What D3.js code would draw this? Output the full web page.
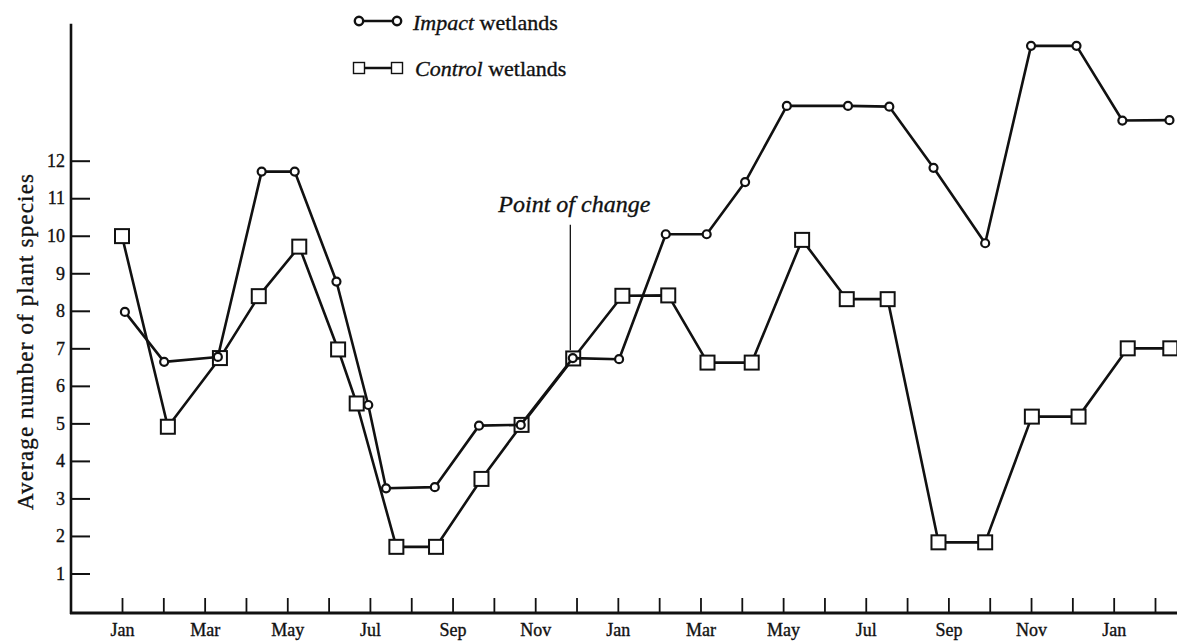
<!DOCTYPE html>
<html>
<head>
<meta charset="utf-8">
<script src="https://cdn.jsdelivr.net/npm/d3@7"></script>
<style>
  body { margin: 0; background: #fff; }
  text { font-family: "Liberation Serif", "DejaVu Serif", serif; fill: #111; stroke: #111; stroke-width: 0.35px; }
</style>
</head>
<body>
<svg></svg>
<script>
// sampling dates are irregular, so x is "months since the first Jan tick"
const impactMonths = [0.07, 1.02, 2.32, 3.38, 4.18, 5.19, 5.96, 6.39, 7.57, 8.64, 9.65, 10.91, 12.03,
    13.16, 14.15, 15.08, 16.09, 17.57, 18.57, 19.64, 20.89, 22.0, 23.1, 24.21, 25.35];
const impactValues = [7.97, 6.64, 6.77, 11.71, 11.71, 8.78, 5.49, 3.27, 3.3, 4.94, 4.96, 6.74, 6.71,
    10.04, 10.04, 11.43, 13.46, 13.46, 13.44, 11.81, 9.8, 15.06, 15.06, 13.07, 13.08];

const controlMonths = [0, 1.11, 2.37, 3.31, 4.29, 5.23, 5.68, 6.64, 7.6, 8.7, 9.67, 10.92, 12.11,
    13.22, 14.17, 15.24, 16.46, 17.54, 18.53, 19.76, 20.89, 22.02, 23.15, 24.34, 25.37];
const controlValues = [9.99, 4.91, 6.74, 8.39, 9.71, 6.97, 5.53, 1.71, 1.71, 3.52, 4.96, 6.73, 8.4,
    8.41, 6.62, 6.62, 9.89, 8.31, 8.31, 1.83, 1.83, 5.18, 5.18, 7.0, 7.0];

const monthLabels = ["Jan", "Mar", "May", "Jul", "Sep", "Nov", "Jan", "Mar", "May", "Jul", "Sep", "Nov", "Jan"];
const yTicks = [1, 2, 3, 4, 5, 6, 7, 8, 9, 10, 11, 12];
const changeMonth = 10.85;

function main() {
    const width = 1177;
    const height = 641;

    const svg = d3.select("svg")
        .attr("width", width)
        .attr("height", height);

    const xScale = d3.scaleLinear().domain([0, 25]).range([122, 1155]);
    const yScale = d3.scaleLinear().domain([0, 12]).range([611, 160.7]);
    const axisX = 71;
    const axisY = 613;

    // y axis
    svg.append("line")
        .attr("x1", axisX).attr("x2", axisX)
        .attr("y1", yScale(15.65)).attr("y2", axisY + 1)
        .attr("stroke", "#111").attr("stroke-width", 2.6);

    const yAxis = svg.append("g")
        .attr("transform", `translate(${axisX},0)`)
        .call(d3.axisLeft(yScale).tickValues(yTicks).tickSize(-19).tickPadding(6));
    yAxis.select(".domain").remove();
    yAxis.selectAll(".tick line").attr("stroke", "#111").attr("stroke-width", 2);
    yAxis.selectAll(".tick text")
        .style("font-family", "Liberation Serif")
        .style("font-size", "18px")
        .attr("fill", "#111");

    // x axis
    svg.append("line")
        .attr("x1", axisX - 1).attr("x2", width)
        .attr("y1", axisY).attr("y2", axisY)
        .attr("stroke", "#111").attr("stroke-width", 2.8);

    const xAxis = svg.append("g")
        .attr("transform", `translate(0,${axisY})`)
        .call(d3.axisBottom(xScale)
            .tickValues(d3.range(0, 26))
            .tickSize(-15)
            .tickPadding(10)
            .tickFormat(d => d % 2 === 0 ? monthLabels[d / 2] : ""));
    xAxis.select(".domain").remove();
    xAxis.selectAll(".tick line").attr("stroke", "#111").attr("stroke-width", 1.8);
    xAxis.selectAll(".tick text")
        .style("font-family", "Liberation Serif")
        .style("font-size", "18px")
        .attr("fill", "#111");

    // axis title
    svg.append("text")
        .attr("transform", "translate(33,342) rotate(-90)")
        .attr("text-anchor", "middle")
        .attr("textLength", 336)
        .attr("lengthAdjust", "spacing")
        .style("font-size", "23px")
        .text("Average number of plant species");

    // point of change marker
    svg.append("line")
        .attr("x1", xScale(changeMonth)).attr("x2", xScale(changeMonth))
        .attr("y1", yScale(10.29)).attr("y2", yScale(6.95))
        .attr("stroke", "#111").attr("stroke-width", 1.3);
    svg.append("text")
        .attr("x", xScale(changeMonth) + 4)
        .attr("y", 212)
        .attr("text-anchor", "middle")
        .style("font-style", "italic")
        .style("font-size", "24px")
        .text("Point of change");

    const line = d3.line()
        .x(d => xScale(d[0]))
        .y(d => yScale(d[1]));

    const control = controlMonths.map((m, i) => [m, controlValues[i]]);
    const impact = impactMonths.map((m, i) => [m, impactValues[i]]);

    // control wetlands
    svg.append("path")
        .datum(control)
        .attr("d", line)
        .attr("fill", "none")
        .attr("stroke", "#111")
        .attr("stroke-width", 2.6)
        .attr("stroke-linejoin", "round");

    svg.selectAll("rect.control")
        .data(control)
        .enter()
        .append("rect")
        .attr("class", "control")
        .attr("x", d => xScale(d[0]) - 7)
        .attr("y", d => yScale(d[1]) - 7)
        .attr("width", 14)
        .attr("height", 14)
        .attr("fill", "#fff")
        .attr("stroke", "#111")
        .attr("stroke-width", 2);

    // impact wetlands
    svg.append("path")
        .datum(impact)
        .attr("d", line)
        .attr("fill", "none")
        .attr("stroke", "#111")
        .attr("stroke-width", 2.6)
        .attr("stroke-linejoin", "round");

    svg.selectAll("circle.impact")
        .data(impact)
        .enter()
        .append("circle")
        .attr("class", "impact")
        .attr("cx", d => xScale(d[0]))
        .attr("cy", d => yScale(d[1]))
        .attr("r", 4)
        .attr("fill", "#fff")
        .attr("stroke", "#111")
        .attr("stroke-width", 2.2);

    // legend
    const legend = svg.append("g");
    legend.append("line")
        .attr("x1", 359).attr("x2", 397).attr("y1", 21).attr("y2", 21)
        .attr("stroke", "#111").attr("stroke-width", 2.4);
    legend.selectAll("circle")
        .data([359, 397])
        .enter()
        .append("circle")
        .attr("cx", d => d).attr("cy", 21).attr("r", 4.2)
        .attr("fill", "#fff").attr("stroke", "#111").attr("stroke-width", 2.4);
    const t1 = legend.append("text").attr("x", 413).attr("y", 30).style("font-size", "22px");
    t1.append("tspan").style("font-style", "italic").text("Impact");
    t1.append("tspan").text(" wetlands");

    legend.append("line")
        .attr("x1", 359).attr("x2", 397).attr("y1", 68).attr("y2", 68)
        .attr("stroke", "#111").attr("stroke-width", 2.4);
    legend.selectAll("rect")
        .data([359, 397])
        .enter()
        .append("rect")
        .attr("x", d => d - 5.5).attr("y", 62.5).attr("width", 11).attr("height", 11)
        .attr("fill", "#fff").attr("stroke", "#111").attr("stroke-width", 1.4);
    const t2 = legend.append("text").attr("x", 415).attr("y", 76).style("font-size", "22px");
    t2.append("tspan").style("font-style", "italic").text("Control");
    t2.append("tspan").text(" wetlands");
}

main();
</script>
</body>
</html>
